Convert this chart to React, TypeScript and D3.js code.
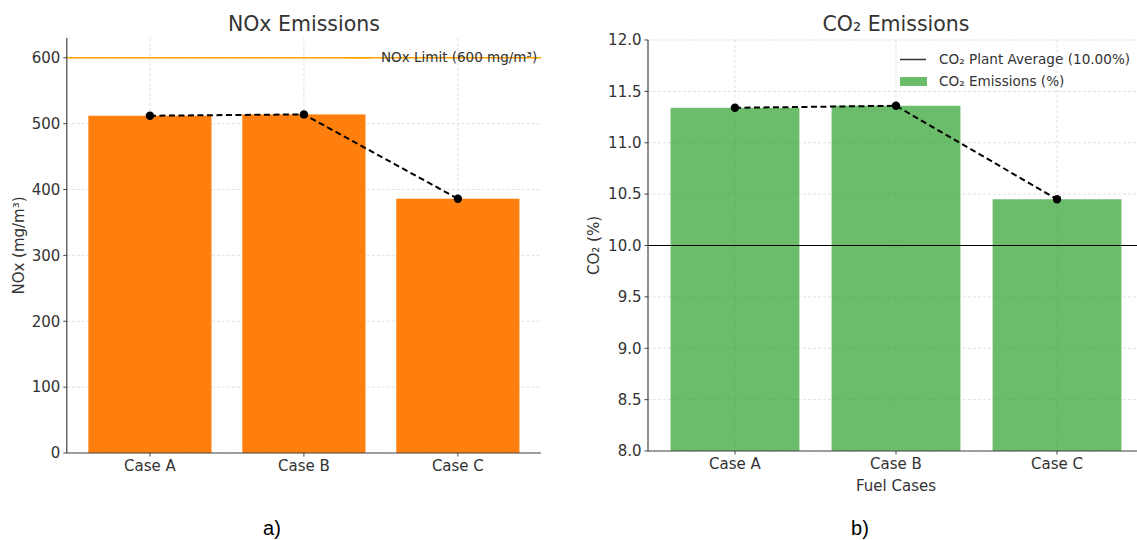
import React from "react";
import * as d3 from "d3";

const width = 1137;
const height = 540;

const cases = ["Case A", "Case B", "Case C"];
const noxValues = [512, 514, 386];
const co2Values = [11.34, 11.36, 10.45];
const noxTicks = [0, 100, 200, 300, 400, 500, 600];
const co2Ticks = [8.0, 8.5, 9.0, 9.5, 10.0, 10.5, 11.0, 11.5, 12.0];
const noxLimit = 600;
const co2Average = 10.0;

const font = "DejaVu Sans, sans-serif";
const textColor = "#333";
const gridColor = "#d9d9d9";

type PanelProps = {
  left: number;
  right: number;
  top: number;
  bottom: number;
  domain: [number, number];
  values: number[];
  ticks: number[];
  tickFormat: (d: number) => string;
  barColor: string;
  title: string;
  yLabel: string;
  yLabelX: number;
  xLabel?: string;
  children?: (x: d3.ScaleBand<string>, y: d3.ScaleLinear<number, number>) => React.ReactNode;
};

function Panel(p: PanelProps) {
  const x = d3
    .scaleBand<string>()
    .domain(cases)
    .range([p.left, p.right])
    .paddingInner(0.2)
    .paddingOuter(0.14);
  const y = d3.scaleLinear().domain(p.domain).range([p.bottom, p.top]);
  const cx = (c: string) => (x(c) ?? 0) + x.bandwidth() / 2;

  const line = d3
    .line<number>()
    .x((_, i) => cx(cases[i]))
    .y((d) => y(d));

  const midX = (p.left + p.right) / 2;
  const midY = (p.top + p.bottom) / 2;

  return (
    <g fontFamily={font}>
      {/* grid */}
      {p.ticks.map((t) => (
        <line
          key={"gy" + t}
          x1={p.left}
          x2={p.right}
          y1={y(t)}
          y2={y(t)}
          stroke={gridColor}
          strokeWidth={0.8}
          strokeDasharray="3,2"
        />
      ))}
      {cases.map((c) => (
        <line
          key={"gx" + c}
          x1={cx(c)}
          x2={cx(c)}
          y1={p.top}
          y2={p.bottom}
          stroke={gridColor}
          strokeWidth={0.8}
          strokeDasharray="3,2"
        />
      ))}

      {/* bars */}
      {p.values.map((v, i) => (
        <rect
          key={cases[i]}
          x={x(cases[i])}
          y={y(v)}
          width={x.bandwidth()}
          height={p.bottom - y(v)}
          fill={p.barColor}
        />
      ))}

      {p.children && p.children(x, y)}

      {/* trend line */}
      <path
        d={line(p.values) ?? ""}
        fill="none"
        stroke="#000"
        strokeWidth={2}
        strokeDasharray="6,3.5"
      />
      {p.values.map((v, i) => (
        <circle key={"m" + i} cx={cx(cases[i])} cy={y(v)} r={4.2} fill="#000" />
      ))}

      {/* axes */}
      <line x1={p.left} x2={p.left} y1={p.top} y2={p.bottom} stroke="#444" strokeWidth={1.2} />
      <line x1={p.left} x2={p.right} y1={p.bottom} y2={p.bottom} stroke="#444" strokeWidth={1.2} />
      {p.ticks.map((t) => (
        <g key={"ty" + t}>
          <line x1={p.left - 3.5} x2={p.left} y1={y(t)} y2={y(t)} stroke="#444" />
          <text
            x={p.left - 6.5}
            y={y(t)}
            dy="0.35em"
            textAnchor="end"
            fontSize={15}
            fill={textColor}
          >
            {p.tickFormat(t)}
          </text>
        </g>
      ))}
      {cases.map((c) => (
        <g key={"tx" + c}>
          <line x1={cx(c)} x2={cx(c)} y1={p.bottom} y2={p.bottom + 3.5} stroke="#444" />
          <text x={cx(c)} y={p.bottom + 17.5} textAnchor="middle" fontSize={15} fill={textColor}>
            {c}
          </text>
        </g>
      ))}

      <text x={midX} y={31} textAnchor="middle" fontSize={20.5} fill={textColor}>
        {p.title}
      </text>
      <text
        transform={`translate(${p.yLabelX},${midY}) rotate(-90)`}
        textAnchor="middle"
        fontSize={15}
        fill={textColor}
      >
        {p.yLabel}
      </text>
      {p.xLabel && (
        <text x={midX} y={491} textAnchor="middle" fontSize={15} fill={textColor}>
          {p.xLabel}
        </text>
      )}
    </g>
  );
}

export default function App() {
  return (
    <div style={{ position: "absolute", left: 0, top: 0 }}>
      <svg width={width} height={height} style={{ display: "block", background: "#fff" }}>
        <Panel
          left={66.8}
          right={541}
          top={38}
          bottom={453}
          domain={[0, 630]}
          values={noxValues}
          ticks={noxTicks}
          tickFormat={(d) => String(d)}
          barColor="#ff7f0e"
          title="NOx Emissions"
          yLabel="NOx (mg/m³)"
          yLabelX={24}
        >
          {(x, y) => (
            <g>
              <line
                x1={x.range()[0]}
                x2={x.range()[1]}
                y1={y(noxLimit)}
                y2={y(noxLimit)}
                stroke="#ffa500"
                strokeWidth={1.5}
              />
              <line x1={345} x2={371} y1={y(noxLimit)} y2={y(noxLimit)} stroke="#ffa500" strokeWidth={1.5} />
              <text x={381} y={y(noxLimit)} dy="0.35em" fontSize={13.5} fill={textColor}>
                {`NOx Limit (${noxLimit} mg/m³)`}
              </text>
            </g>
          )}
        </Panel>
        <Panel
          left={648}
          right={1144}
          top={40}
          bottom={451}
          domain={[8, 12]}
          values={co2Values}
          ticks={co2Ticks}
          tickFormat={(d) => d.toFixed(1)}
          barColor="rgba(44,160,44,0.7)"
          title="CO₂ Emissions"
          yLabel="CO₂ (%)"
          yLabelX={599}
          xLabel="Fuel Cases"
        >
          {(x, y) => (
            <g>
              <line
                x1={x.range()[0]}
                x2={x.range()[1]}
                y1={y(co2Average)}
                y2={y(co2Average)}
                stroke="#000"
                strokeWidth={1.2}
              />
              <line x1={900} x2={926} y1={59.5} y2={59.5} stroke="#333" strokeWidth={1.5} />
              <text x={939} y={59.5} dy="0.35em" fontSize={13.6} fill={textColor}>
                {`CO₂ Plant Average (${co2Average.toFixed(2)}%)`}
              </text>
              <rect x={900} y={77} width={27} height={9} fill="rgba(44,160,44,0.7)" />
              <text x={939} y={81.5} dy="0.35em" fontSize={13.6} fill={textColor}>
                CO₂ Emissions (%)
              </text>
            </g>
          )}
        </Panel>
        <text x={272} y={535} textAnchor="middle" fontSize={20} fontFamily="Liberation Sans, Arial, sans-serif" fill="#000">
          a)
        </text>
        <text x={860} y={535} textAnchor="middle" fontSize={20} fontFamily="Liberation Sans, Arial, sans-serif" fill="#000">
          b)
        </text>
      </svg>
    </div>
  );
}
